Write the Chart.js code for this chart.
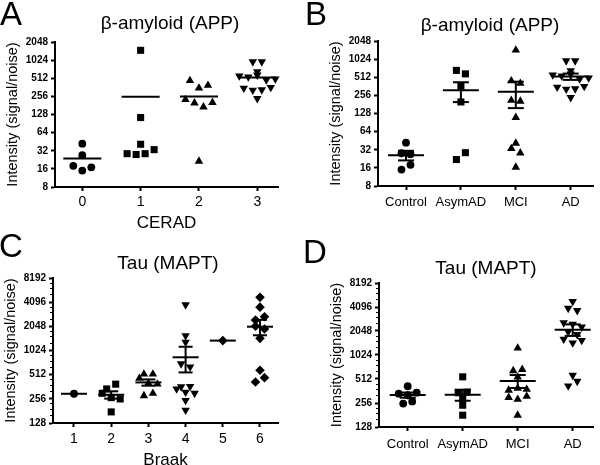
<!DOCTYPE html>
<html><head><meta charset="utf-8">
<script src="https://cdn.jsdelivr.net/npm/chart.js@4.4.0/dist/chart.umd.min.js"></script>
<style>
html,body{margin:0;padding:0;background:#fff;}
#wrap{position:relative;width:600px;height:465px;overflow:hidden;font-family:'Liberation Sans',Arial,sans-serif;color:#000;}
canvas{position:absolute;}
.lbl{position:absolute;line-height:1;white-space:nowrap;}
.letter{font-size:33px;}
.ttl{font-size:19px;transform:translateX(-50%);}
</style></head><body>
<div id="wrap">
  <canvas id="cA" width="300" height="230" style="left:0;top:0;width:300px;height:230px"></canvas>
  <canvas id="cB" width="300" height="230" style="left:300px;top:0;width:300px;height:230px"></canvas>
  <canvas id="cC" width="300" height="235" style="left:0;top:230px;width:300px;height:235px"></canvas>
  <canvas id="cD" width="300" height="235" style="left:300px;top:230px;width:300px;height:235px"></canvas>
  <div class="lbl letter" style="left:0px;top:-3px">A</div>
  <div class="lbl letter" style="left:305px;top:-3px">B</div>
  <div class="lbl letter" style="left:-1px;top:229px">C</div>
  <div class="lbl letter" style="left:303px;top:235px">D</div>
  <div class="lbl ttl" style="left:170px;top:13px">β-amyloid (APP)</div>
  <div class="lbl ttl" style="left:490px;top:15px">β-amyloid (APP)</div>
  <div class="lbl ttl" style="left:168px;top:253px">Tau (MAPT)</div>
  <div class="lbl ttl" style="left:486px;top:258px">Tau (MAPT)</div>
</div>
<script>
// ---------------- DATA ----------------
const ceradCategories = ['0', '1', '2', '3'];
const clinicalCategories = ['Control', 'AsymAD', 'MCI', 'AD'];
const braakCategories = ['1', '2', '3', '4', '5', '6'];
const amyloidTicks = [8, 16, 32, 64, 128, 256, 512, 1024, 2048];
const tauTicks = [128, 256, 512, 1024, 2048, 4096, 8192];

// Panel A: beta-amyloid by CERAD
const appCerad0 = [42, 27, 18, 15, 17];
const appCerad1 = [1490, 114, 41, 28.6, 27.7, 28.6, 33.4];
const appCerad2 = [226, 468, 199, 352, 171, 390, 203, 21.4];
const appCerad3 = [960, 960, 660, 560, 540, 580, 480, 500, 350, 325, 330, 360, 236];
// Panel B: beta-amyloid by diagnosis
const appControl = [42, 28, 27, 15, 18];
const appAsymAD = [666, 583, 364, 199, 22, 28.6];
const appMCI = [1450, 446, 405, 212, 205, 110, 41, 33.4, 28.3, 16.4];
const appAD = [960, 960, 660, 560, 540, 580, 480, 500, 350, 325, 330, 360, 236];
// Panel C: tau by Braak stage
const tauBraak1 = [296];
const tauBraak2 = [340, 390, 300, 265, 255, 176];
const tauBraak3 = [520, 520, 460, 400, 390, 280, 300];
const tauBraak4 = [3800, 1570, 1300, 700, 640, 362, 340, 310, 365, 245, 185, 300];
const tauBraak5 = [1360];
const tauBraak6 = [4700, 3550, 2450, 2700, 2050, 1900, 1450, 580, 415, 470];
// Panel D: tau by diagnosis
const tauControl = [415, 335, 320, 345, 252, 268];
const tauAsymAD = [545, 344, 350, 288, 240, 180];
const tauMCI = [1250, 650, 675, 540, 370, 390, 380, 300, 285, 310, 180];
const tauAD = [4800, 3950, 3700, 2600, 2500, 2300, 2000, 1850, 1620, 1450, 1560, 570, 420, 480];

// ---------------- HELPERS ----------------
const FONT = "'Liberation Sans', Arial, sans-serif";
const NARROW = "'Liberation Sans Narrow', 'Arial Narrow', 'Liberation Sans', Arial, sans-serif";
Chart.defaults.font.family = FONT;
Chart.defaults.color = '#000';

const CIRCLE = {pointStyle: 'circle', radius: 3.9, rotation: 0};
const SQUARE = {pointStyle: 'rect', radius: 5, rotation: 0};
const TRI = {pointStyle: 'triangle', radius: 4.9, rotation: 0};
const INVTRI = {pointStyle: 'triangle', radius: 4.9, rotation: 180};
const DIAMOND = {pointStyle: 'rectRot', radius: 4.8, rotation: 0};

function mean(a) { return a.reduce((s, v) => s + v, 0) / a.length; }
function sem(a) {
  if (a.length < 2) return 0;
  const m = mean(a);
  const v = a.reduce((s, x) => s + (x - m) * (x - m), 0) / (a.length - 1);
  return Math.sqrt(v / a.length);
}

// column-scatter layout: points in the same row are spread symmetrically
function swarm(values, cat, g) {
  const pxPerCat = (g.right - g.left) / (g.xmax - g.xmin);
  const pxPerLog2 = (g.bottom - g.top) / Math.log2(g.ymax / g.ymin);
  const idx = values.map((v, i) => i).sort((a, b) => values[a] - values[b] || a - b);
  const rows = [];
  let cur = null;
  for (const i of idx) {
    const py = Math.log2(values[i]) * pxPerLog2;
    if (!cur || py - cur.start >= g.rowPx) { cur = {start: py, members: []}; rows.push(cur); }
    cur.members.push(i);
  }
  const out = new Array(values.length);
  for (const r of rows) {
    r.members.sort((a, b) => a - b);
    const n = r.members.length;
    r.members.forEach((i, j) => {
      const dx = (j - (n - 1) / 2) * g.spacePx;
      out[i] = {x: cat + dx / pxPerCat, y: values[i]};
    });
  }
  return out;
}

function seg(x1, y1, x2, y2) {
  return {type: 'scatter', showLine: true, data: [{x: x1, y: y1}, {x: x2, y: y2}],
    borderColor: '#000', borderWidth: 2, pointRadius: 0, pointHoverRadius: 0,
    fill: false, order: 0, clip: false, borderCapStyle: 'butt'};
}

// short minor ticks on the y axis, placed through the y scale
const minorTicks = {
  id: 'minorTicks',
  afterDraw(chart, args, opts) {
    if (!opts || !opts.majors) return;
    const y = chart.scales.y;
    const ctx = chart.ctx;
    ctx.save();
    ctx.strokeStyle = '#000';
    ctx.lineWidth = 1;
    ctx.beginPath();
    for (let k = 0; k < opts.majors.length - 1; k++) {
      for (let j = 1; j < opts.divisions; j++) {
        const v = opts.majors[k] * (1 + j / opts.divisions);
        const py = Math.round(y.getPixelForValue(v)) + 0.5;
        ctx.moveTo(y.right - 3, py);
        ctx.lineTo(y.right, py);
      }
    }
    ctx.stroke();
    ctx.restore();
  }
};

function buildPanel(id, g, labels, catPos, groups, styles, yTicks, xTitle, showSEM, minorDiv) {
  const pxPerCat = (g.right - g.left) / (g.xmax - g.xmin);
  const datasets = [];
  groups.forEach((vals, k) => {
    const c = catPos[k];
    const st = styles[k];
    datasets.push({type: 'scatter', data: swarm(vals, c, g), pointStyle: st.pointStyle,
      pointRadius: st.radius, pointRotation: st.rotation, backgroundColor: '#000',
      borderColor: '#000', borderWidth: 0, order: 1, clip: false});
    const m = mean(vals);
    const hw = g.meanPx / pxPerCat;
    datasets.push(seg(c - hw, m, c + hw, m));
    if (showSEM && vals.length > 1) {
      const s = sem(vals);
      const cw = g.capPx / pxPerCat;
      datasets.push(seg(c, m - s, c, m + s));
      datasets.push(seg(c - cw, m + s, c + cw, m + s));
      datasets.push(seg(c - cw, m - s, c + cw, m - s));
    }
  });
  const axisGrid = {drawOnChartArea: false, drawTicks: true, tickLength: 4, tickWidth: 2, tickColor: '#000'};
  return new Chart(document.getElementById(id), {
    type: 'scatter',
    data: {datasets},
    plugins: [minorTicks],
    options: {
      responsive: false, animation: false, events: [],
      layout: {padding: {left: g.left - 53, right: 300 - g.right, top: g.top, bottom: 0}},
      plugins: {legend: {display: false}, tooltip: {enabled: false}, title: {display: false},
        minorTicks: minorDiv ? {majors: yTicks, divisions: minorDiv} : {}},
      scales: {
        x: {
          type: 'linear', min: g.xmin, max: g.xmax,
          afterBuildTicks: ax => { ax.ticks = catPos.map(v => ({value: v})); },
          afterFit: ax => { ax.height = g.H - g.bottom; },
          ticks: {callback: (v, i) => labels[i], font: {size: g.xFont, family: FONT},
            padding: g.xPad, maxRotation: 0, autoSkip: false, color: '#000'},
          grid: axisGrid,
          border: {display: true, color: '#000', width: 2},
          title: {display: !!xTitle, text: xTitle || '', color: '#000',
            font: {size: 17, lineHeight: 1, family: FONT}, padding: {top: 0, bottom: g.xTitlePad}}
        },
        y: {
          type: 'logarithmic', min: g.ymin, max: g.ymax,
          afterBuildTicks: ax => { ax.ticks = yTicks.map(v => ({value: v})); },
          afterFit: ax => { ax.width = 53; },
          ticks: {callback: v => String(v), font: {size: 10, weight: 'bold', family: NARROW},
            padding: 3, autoSkip: false, color: '#000'},
          grid: axisGrid,
          border: {display: true, color: '#000', width: 2},
          title: {display: true, text: 'Intensity (signal/noise)', color: '#000',
            font: {size: 14.5, lineHeight: 1.2, family: FONT}, padding: {top: 2.3, bottom: 0}}
        }
      }
    }
  });
}

// ---------------- PANELS ----------------
const geoA = {left: 55, right: 278, top: 42, bottom: 187, H: 230, xmin: -0.468, xmax: 3.355,
  ymin: 8, ymax: 2048, rowPx: 8, spacePx: 9, meanPx: 19, capPx: 0, xFont: 14, xPad: 3, xTitlePad: -2};
const geoB = {left: 78, right: 293, top: 41, bottom: 186, H: 230, xmin: -0.51, xmax: 3.406,
  ymin: 8, ymax: 2048, rowPx: 8, spacePx: 9, meanPx: 18, capPx: 8, xFont: 13, xPad: 5, xTitlePad: 0};
const geoC = {left: 53, right: 278, top: 48, bottom: 193, H: 235, xmin: 0.4355, xmax: 6.484,
  ymin: 128, ymax: 8192, rowPx: 6, spacePx: 9, meanPx: 13, capPx: 7, xFont: 14, xPad: 4, xTitlePad: -4};
const geoD = {left: 79, right: 293, top: 53, bottom: 197, H: 235, xmin: -0.522, xmax: 3.369,
  ymin: 128, ymax: 8192, rowPx: 6, spacePx: 9, meanPx: 18, capPx: 8, xFont: 13, xPad: 6, xTitlePad: 0};

buildPanel('cA', geoA, ceradCategories, [0, 1, 2, 3],
  [appCerad0, appCerad1, appCerad2, appCerad3], [CIRCLE, SQUARE, TRI, INVTRI],
  amyloidTicks, 'CERAD', false, 0);
buildPanel('cB', geoB, clinicalCategories, [0, 1, 2, 3],
  [appControl, appAsymAD, appMCI, appAD], [CIRCLE, SQUARE, TRI, INVTRI],
  amyloidTicks, null, true, 0);
buildPanel('cC', geoC, braakCategories, [1, 2, 3, 4, 5, 6],
  [tauBraak1, tauBraak2, tauBraak3, tauBraak4, tauBraak5, tauBraak6],
  [CIRCLE, SQUARE, TRI, INVTRI, DIAMOND, DIAMOND], tauTicks, 'Braak', true, 4);
buildPanel('cD', geoD, clinicalCategories, [0, 1, 2, 3],
  [tauControl, tauAsymAD, tauMCI, tauAD], [CIRCLE, SQUARE, TRI, INVTRI],
  tauTicks, null, true, 4);
</script>
</body></html>
